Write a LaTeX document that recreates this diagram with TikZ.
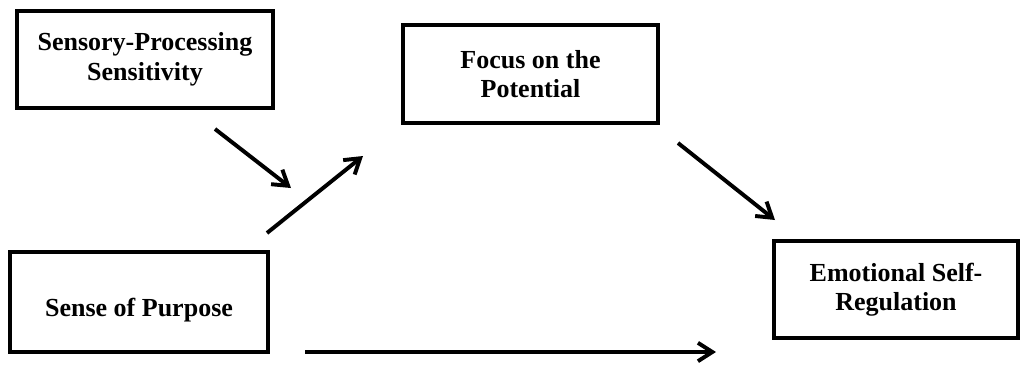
\documentclass[tikz,border=0pt]{standalone}
\usepackage{fontspec}
\setmainfont{Liberation Serif}
\usepackage{tikz}
\usetikzlibrary{arrows.meta}

\begin{document}
\begin{tikzpicture}[x = .025cm, y = -.025cm,
    factor/.style = {draw, line width = 2.8pt, align = center, inner sep = 0,
      font = \fontsize{18.5}{21}\selectfont\bfseries},
    effect/.style = {line width = 2.8pt, -{Straight Barb[length = 3.6mm, width = 4.6mm]}}]
  \useasboundingbox (0, 0) rectangle (1021, 364);
  \node (sps) at (145, 59.5) [factor, minimum width = 6.4cm, minimum height = 2.425cm] {Sensory-Processing\\Sensitivity};
  \node (focus) at (530.5, 74) [factor, minimum width = 6.375cm, minimum height = 2.45cm] {Focus on the\\Potential};
  \node (purpose) at (139, 302) [factor, minimum width = 6.45cm, minimum height = 2.5cm, text height = .875cm] {Sense of Purpose};
  \node (esr) at (896, 289.5) [factor, minimum width = 6.1cm, minimum height = 2.425cm] {Emotional Self-\\Regulation};
  \coordinate (mod-a) at (215, 129);
  \coordinate (mod-b) at (291, 188);
  \coordinate (ind-a) at (267, 233);
  \coordinate (ind-b) at (363, 156);
  \coordinate (med-a) at (678, 143);
  \coordinate (med-b) at (775, 220);
  \coordinate (dir-a) at (305, 352);
  \coordinate (dir-b) at (716, 352);
  \draw[effect] (mod-a) -- (mod-b);
  \draw[effect] (ind-a) -- (ind-b);
  \draw[effect] (med-a) -- (med-b);
  \draw[effect] (dir-a) -- (dir-b);
\end{tikzpicture}
\end{document}
